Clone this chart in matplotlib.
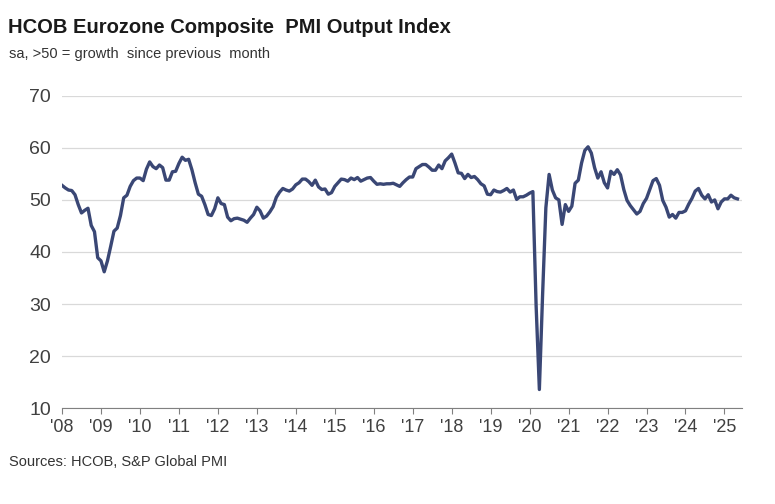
import numpy as np
import matplotlib.pyplot as plt

plt.rcParams['font.family'] = 'Liberation Sans'

# Monthly composite PMI output index, Jan 2008 - May 2025
pmi = [
    52.8, 52.3, 51.9, 51.8, 51.0, 49.1, 47.5, 48.0, 48.4, 45.1, 43.9, 38.9,
    38.3, 36.2, 38.3, 41.1, 44.0, 44.6, 47.0, 50.4, 50.9, 52.6, 53.7, 54.2,
    54.2, 53.7, 55.9, 57.3, 56.4, 56.0, 56.7, 56.2, 53.8, 53.8, 55.4, 55.5,
    57.0, 58.2, 57.6, 57.8, 55.8, 53.3, 51.1, 50.7, 49.1, 47.2, 47.0, 48.3,
    50.4, 49.3, 49.1, 46.7, 46.0, 46.4, 46.5, 46.3, 46.1, 45.7, 46.5, 47.2,
    48.6, 47.9, 46.5, 46.9, 47.7, 48.7, 50.5, 51.5, 52.2, 51.9, 51.7, 52.1,
    52.9, 53.3, 54.0, 54.0, 53.5, 52.8, 53.8, 52.5, 52.0, 52.1, 51.1, 51.4,
    52.6, 53.3, 54.0, 53.9, 53.6, 54.2, 53.9, 54.3, 53.6, 53.9, 54.2, 54.3,
    53.6, 53.0, 53.1, 53.0, 53.1, 53.1, 53.2, 52.9, 52.6, 53.3, 53.9, 54.4,
    54.4, 56.0, 56.4, 56.8, 56.8, 56.3, 55.7, 55.7, 56.7, 56.0, 57.5, 58.1,
    58.8, 57.1, 55.2, 55.1, 54.1, 54.9, 54.3, 54.5, 53.9, 53.1, 52.7, 51.1,
    51.0, 51.9, 51.6, 51.5, 51.8, 52.2, 51.5, 51.9, 50.1, 50.6, 50.6, 50.9,
    51.3, 51.6, 29.7, 13.6, 31.9, 48.5, 54.9, 51.9, 50.4, 50.0, 45.3, 49.1,
    47.8, 48.8, 53.2, 53.8, 57.1, 59.5, 60.2, 59.0, 56.2, 54.2, 55.4, 53.3,
    52.3, 55.5, 54.9, 55.8, 54.8, 52.0, 49.9, 48.9, 48.1, 47.3, 47.8, 49.3,
    50.3, 52.0, 53.7, 54.1, 52.8, 49.9, 48.6, 46.7, 47.2, 46.5, 47.6, 47.6,
    47.9, 49.2, 50.3, 51.7, 52.2, 50.9, 50.2, 51.0, 49.6, 50.0, 48.3, 49.6,
    50.2, 50.2, 50.9, 50.4, 50.2,
]
years = list(range(2008, 2026))
year_labels = ["'%02d" % (y % 100) for y in years]

t = 2008 + np.arange(len(pmi)) / 12.0

fig = plt.figure(figsize=(7.75, 5.04), dpi=100)
ax = fig.add_axes([0.08, 0.19, 0.877, 0.62])
ax.plot(t, pmi, color='#3a4775', lw=2.4, solid_joinstyle='round')

ax.set_ylim(10, 70)
ax.set_xlim(2008, 2025 + 5.3 / 12)
ax.set_yticks(range(10, 71, 10))
ax.set_xticks(years)
ax.set_xticklabels(year_labels)
ax.grid(axis='y', color='#d9d9d9', lw=0.9)
ax.set_axisbelow(True)
for s in ['top', 'right', 'left']:
    ax.spines[s].set_visible(False)
ax.spines['bottom'].set_color('#808080')
ax.tick_params(axis='y', length=0, labelsize=14, colors='#404040', pad=8)
ax.tick_params(axis='x', length=4, color='#808080', labelsize=13, colors='#404040')

fig.text(0.01, 0.935, 'HCOB Eurozone Composite  PMI Output Index', fontsize=14.5,
         fontweight='bold', color='#1a1a1a')
fig.text(0.012, 0.885, 'sa, >50 = growth  since previous  month', fontsize=10.5, color='#333333')
fig.text(0.012, 0.075, 'Sources: HCOB, S&P Global PMI', fontsize=10.5, color='#333333')

fig.savefig('out.png')
